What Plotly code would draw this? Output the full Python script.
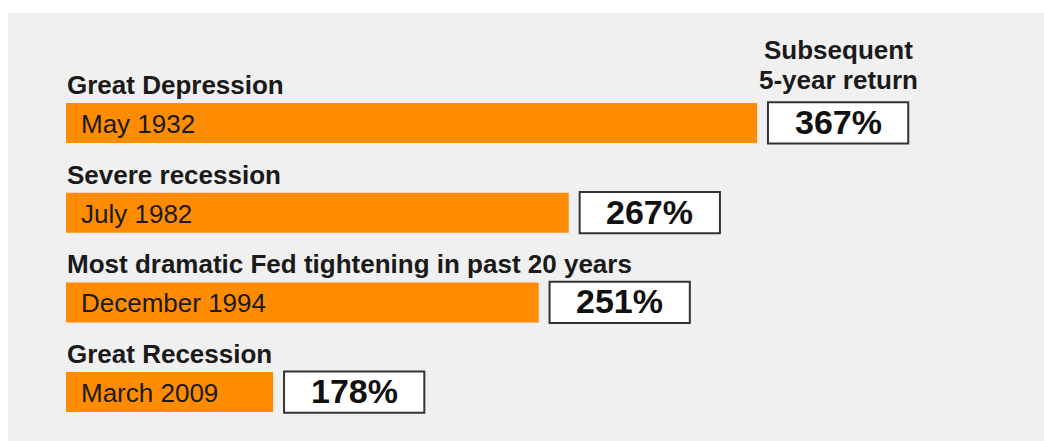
import plotly.graph_objects as go

# ---- data ----
events = ["Great Depression", "Severe recession",
          "Most dramatic Fed tightening in past 20 years", "Great Recession"]
dates = ["May 1932", "July 1982", "December 1994", "March 2009"]
returns = [367, 267, 251, 178]            # subsequent 5-year return, %
bar_length = [367, 267, 251, 110]          # drawn bar length as shown in the picture
box_header = ["Subsequent", "5-year return"]

# ---- style ----
ORANGE = "#FF8C00"
BG = "#f0f0f0"
TXT = "#1a1a1a"
FONT = "Liberation Sans, Arial, sans-serif"
GAP = 5.8        # gap between bar end and return box (data units)
BOX_W = 74.5     # width of the return box (data units)

y = list(range(len(events)))
box_base = [b + GAP for b in bar_length]
box_center = [b + BOX_W / 2 for b in box_base]

fig = go.Figure()
fig.add_trace(go.Bar(
    y=y, x=bar_length, orientation="h", width=0.446,
    marker=dict(color=ORANGE, line=dict(width=0)),
    hoverinfo="skip", showlegend=False,
))
fig.add_trace(go.Bar(
    y=y, x=[BOX_W] * len(y), base=box_base, orientation="h", width=0.46,
    marker=dict(color="white", line=dict(color="#333333", width=2)),
    hoverinfo="skip", showlegend=False,
))

ann = []
for i in y:
    ann.append(dict(x=0, y=i, text=events[i], xanchor="left", yanchor="middle",
                    xshift=-1, yshift=38, showarrow=False,
                    font=dict(family=FONT, size=26, color=TXT, weight="bold")))
    ann.append(dict(x=0, y=i, text=dates[i], xanchor="left", yanchor="middle",
                    xshift=13, yshift=-1, showarrow=False,
                    font=dict(family=FONT, size=26, color=TXT)))
    ann.append(dict(x=box_center[i], y=i, text=f"{returns[i]}%", xanchor="center",
                    yanchor="middle", yshift=1, showarrow=False,
                    font=dict(family=FONT, size=34, color="#111111", weight="bold")))

ann.append(dict(x=box_center[0], y=0, text=box_header[0], xanchor="center",
                yanchor="middle", yshift=73, showarrow=False,
                font=dict(family=FONT, size=26, color=TXT, weight="bold")))
ann.append(dict(x=box_center[0], y=0, text=box_header[1], xanchor="center",
                yanchor="middle", yshift=43, showarrow=False,
                font=dict(family=FONT, size=26, color=TXT, weight="bold")))

fig.update_layout(
    width=1044, height=441,
    margin=dict(l=8, r=0, t=13, b=0),
    paper_bgcolor="white", plot_bgcolor=BG,
    barmode="overlay",
    xaxis=dict(range=[-30.8, 519.4], visible=False, fixedrange=True),
    yaxis=dict(range=[3.545, -1.226], visible=False, fixedrange=True),
    annotations=ann,
)

fig.write_html(
    "out.html",
    config={"displayModeBar": False},
    post_script="document.body.style.margin='0';document.body.style.overflow='hidden';",
)
